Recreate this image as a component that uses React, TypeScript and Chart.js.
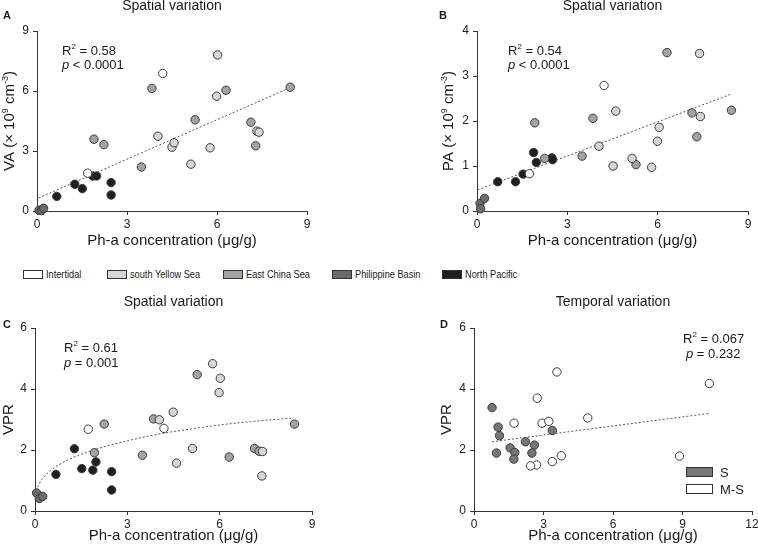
import React, { useEffect, useRef } from 'react';
import { Chart, registerables } from 'chart.js';
Chart.register(...registerables);

const FONT = '"Liberation Sans", Arial, Helvetica, sans-serif';

// ---------------- groups ----------------
const groupNames = ['Intertidal', 'south Yellow Sea', 'East China Sea', 'Philippine Basin', 'North Pacific'];
const groupFill = ['#ffffff', '#d6d6d6', '#a3a3a3', '#6b6b6b', '#1f1f1f'];

// ---------------- Panel A : VA vs Ph-a ----------------
const aIntertidal = [[4.19, 6.88], [1.69, 1.89]];
const aYellowSea = [[6.02, 7.8], [5.99, 5.74], [4.03, 3.74], [4.5, 3.19], [4.57, 3.41], [5.13, 2.34], [5.77, 3.16], [7.33, 3.99], [7.4, 3.94]];
const aEastChina = [[3.83, 6.13], [6.3, 6.04], [8.44, 6.19], [5.27, 4.56], [7.13, 4.44], [7.29, 3.26], [1.9, 3.59], [2.23, 3.32], [3.48, 2.2]];
const aPhilippine = [[0.07, 0.04], [0.15, 0.02], [0.22, 0.14]];
const aNorthPacific = [[0.66, 0.73], [1.26, 1.34], [1.51, 1.12], [1.86, 1.75], [1.99, 1.75], [2.47, 1.42], [2.47, 0.8]];
const aFit = [[0.05, 0.65], [8.47, 6.19]];

// ---------------- Panel B : PA vs Ph-a ----------------
const bIntertidal = [[4.22, 2.79], [1.74, 0.83]];
const bYellowSea = [[7.39, 3.5], [7.42, 2.1], [4.61, 2.22], [6.05, 1.86], [5.99, 1.55], [4.05, 1.44], [4.52, 1.0], [5.15, 1.17], [5.8, 0.97]];
const bEastChina = [[6.31, 3.52], [3.85, 2.06], [1.92, 1.96], [7.14, 2.18], [8.45, 2.24], [7.3, 1.65], [3.49, 1.22], [5.28, 1.03], [2.25, 1.17]];
const bPhilippine = [[0.1, 0.17], [0.25, 0.28], [0.12, 0.05]];
const bNorthPacific = [[0.69, 0.65], [1.28, 0.65], [1.53, 0.82], [1.88, 1.3], [1.97, 1.08], [2.49, 1.18], [2.51, 1.14]];
const bFit = [[0.02, 0.47], [8.45, 2.6]];

// ---------------- Panel C : VPR vs Ph-a (spatial) ----------------
const cIntertidal = [[1.73, 2.68], [4.19, 2.71]];
const cYellowSea = [[5.77, 4.83], [6.02, 4.35], [5.98, 3.88], [4.49, 3.24], [4.04, 2.99], [5.12, 2.05], [4.6, 1.57], [7.39, 1.95], [7.37, 1.15]];
const cEastChina = [[5.27, 4.47], [3.85, 3.02], [2.25, 2.85], [3.49, 1.83], [6.31, 1.77], [7.13, 2.05], [7.28, 1.96], [8.43, 2.85], [1.93, 1.91]];
const cPhilippine = [[0.05, 0.59], [0.14, 0.41], [0.25, 0.48]];
const cNorthPacific = [[0.68, 1.2], [1.28, 2.04], [1.52, 1.39], [1.88, 1.34], [1.98, 1.61], [2.49, 1.29], [2.49, 0.69]];
const cFit = [[0.08, 0.78], [0.2, 1.0], [0.5, 1.32], [1, 1.64], [2, 2.03], [3, 2.3], [4, 2.52], [5, 2.68], [6, 2.82], [7, 2.93], [8.4, 3.05]];

// ---------------- Panel D : VPR vs Ph-a (temporal) ----------------
const dSeasonNames = ['S', 'M-S'];
const dSeasonFill = ['#767676', '#ffffff'];
const dS = [[0.78, 3.39], [1.04, 2.75], [1.1, 2.47], [0.97, 1.9], [1.56, 2.07], [1.76, 1.92], [1.72, 1.7], [2.22, 2.27], [2.61, 2.16], [2.5, 1.9], [3.38, 2.64]];
const dMS = [[3.58, 4.56], [2.73, 3.7], [1.73, 2.88], [2.94, 2.88], [3.23, 2.94], [4.91, 3.05], [10.16, 4.18], [8.87, 1.8], [3.77, 1.81], [3.38, 1.62], [2.7, 1.51], [2.44, 1.48]];
const dFit = [[0.78, 2.27], [10.16, 3.2]];

// ---------------- ticks / labels ----------------
const xTicksSpatial = [0, 3, 6, 9];
const xTicksTemporal = [0, 3, 6, 9, 12];
const vaTicks = [0, 3, 6, 9];
const paTicks = [0, 1, 2, 3, 4];
const vprTicks = [0, 2, 4, 6];

type Seg = { t: string; sup?: boolean; it?: boolean };

const xTitle: Seg[] = [{ t: 'Ph-a concentration (μg/g)' }];
const vaTitle: Seg[] = [{ t: 'VA (× 10' }, { t: '9', sup: true }, { t: ' cm' }, { t: '-3', sup: true }, { t: ')' }];
const paTitle: Seg[] = [{ t: 'PA (× 10' }, { t: '9', sup: true }, { t: ' cm' }, { t: '-3', sup: true }, { t: ')' }];
const vprTitle: Seg[] = [{ t: 'VPR' }];

const statsA: Seg[][] = [[{ t: 'R' }, { t: '2', sup: true }, { t: ' = 0.58' }], [{ t: 'p', it: true }, { t: ' < 0.0001' }]];
const statsB: Seg[][] = [[{ t: 'R' }, { t: '2', sup: true }, { t: ' = 0.54' }], [{ t: 'p', it: true }, { t: ' < 0.0001' }]];
const statsC: Seg[][] = [[{ t: 'R' }, { t: '2', sup: true }, { t: ' = 0.61' }], [{ t: 'p', it: true }, { t: ' = 0.001' }]];
const statsD: Seg[][] = [[{ t: 'R' }, { t: '2', sup: true }, { t: ' = 0.067' }], [{ t: 'p', it: true }, { t: ' = 0.232' }]];

// ---------------- drawing helpers ----------------
function segFont(s: Seg, size: number) {
  return `${s.it ? 'italic ' : ''}${s.sup ? Math.round(size * 0.62) : size}px ${FONT}`;
}
function drawRich(ctx: CanvasRenderingContext2D, segs: Seg[], x: number, y: number, size: number, align: 'left' | 'center') {
  let w = 0;
  for (const s of segs) { ctx.font = segFont(s, size); w += ctx.measureText(s.t).width; }
  let cx = align === 'center' ? x - w / 2 : x;
  ctx.textAlign = 'left';
  ctx.textBaseline = 'alphabetic';
  const base = y + size * 0.36;
  for (const s of segs) {
    ctx.font = segFont(s, size);
    ctx.fillText(s.t, cx, s.sup ? base - size * 0.42 : base);
    cx += ctx.measureText(s.t).width;
  }
}

interface Panel {
  key: string;
  left: number; top: number; width: number; height: number;
  area: { l: number; t: number; r: number; b: number };
  xMax: number; yMax: number; xTicks: number[]; yTicks: number[];
  datasets: any[];
  title: string; titleY: number;
  letter: string; letterX: number; letterY: number;
  yTitle: Seg[]; yTitleX: number;
  xTitleY: number;
  stats: Seg[][]; statsX: number[]; statsY: number[];
  seasonLegend?: boolean;
}

function groupSets(groups: number[][][], fit: number[][], curve: boolean) {
  const sets: any[] = groups.map((pts, i) => ({
    label: groupNames[i],
    data: pts.map(([x, y]) => ({ x, y })),
    backgroundColor: groupFill[i],
    borderColor: '#3a3a3a',
    borderWidth: 1,
    pointRadius: 4.2,
    showLine: false,
    clip: false,
    order: 1,
  }));
  sets.push({
    label: 'fit',
    data: fit.map(([x, y]) => ({ x, y })),
    showLine: true,
    borderColor: '#555',
    borderWidth: 1,
    borderDash: [2, 2],
    pointRadius: 0,
    tension: curve ? 0.4 : 0,
    cubicInterpolationMode: curve ? 'monotone' : 'default',
    fill: false,
    clip: false,
    order: 10,
  });
  return sets;
}

function seasonSets() {
  const sets: any[] = [dS, dMS].map((pts, i) => ({
    label: dSeasonNames[i],
    data: pts.map(([x, y]) => ({ x, y })),
    backgroundColor: dSeasonFill[i],
    borderColor: '#3a3a3a',
    borderWidth: 1,
    pointRadius: 4.2,
    showLine: false,
    clip: false,
    order: 1,
  }));
  sets.push({
    label: 'fit',
    data: dFit.map(([x, y]) => ({ x, y })),
    showLine: true,
    borderColor: '#555',
    borderWidth: 1,
    borderDash: [2, 2],
    pointRadius: 0,
    fill: false,
    clip: false,
    order: 10,
  });
  return sets;
}

const panels: Panel[] = [
  {
    key: 'A', left: 0, top: 0, width: 379, height: 258,
    area: { l: 37, t: 31, r: 307, b: 211 },
    xMax: 9, yMax: 9, xTicks: xTicksSpatial, yTicks: vaTicks,
    datasets: groupSets([aIntertidal, aYellowSea, aEastChina, aPhilippine, aNorthPacific], aFit, false),
    title: 'Spatial variation', titleY: 6,
    letter: 'A', letterX: 3, letterY: 16,
    yTitle: vaTitle, yTitleX: 9, xTitleY: 240,
    stats: statsA, statsX: [62, 62], statsY: [50, 64],
  },
  {
    key: 'B', left: 379, top: 0, width: 379, height: 258,
    area: { l: 477, t: 31, r: 748, b: 211 },
    xMax: 9, yMax: 4, xTicks: xTicksSpatial, yTicks: paTicks,
    datasets: groupSets([bIntertidal, bYellowSea, bEastChina, bPhilippine, bNorthPacific], bFit, false),
    title: 'Spatial variation', titleY: 6,
    letter: 'B', letterX: 439, letterY: 16,
    yTitle: paTitle, yTitleX: 448, xTitleY: 240,
    stats: statsB, statsX: [508, 508], statsY: [50, 64],
  },
  {
    key: 'C', left: 0, top: 285, width: 379, height: 266,
    area: { l: 35, t: 328, r: 312, b: 511 },
    xMax: 9, yMax: 6, xTicks: xTicksSpatial, yTicks: vprTicks,
    datasets: groupSets([cIntertidal, cYellowSea, cEastChina, cPhilippine, cNorthPacific], cFit, true),
    title: 'Spatial variation', titleY: 302,
    letter: 'C', letterX: 3, letterY: 325,
    yTitle: vprTitle, yTitleX: 8, xTitleY: 535,
    stats: statsC, statsX: [64, 64], statsY: [347, 362],
  },
  {
    key: 'D', left: 379, top: 285, width: 379, height: 266,
    area: { l: 474, t: 328, r: 752, b: 511 },
    xMax: 12, yMax: 6, xTicks: xTicksTemporal, yTicks: vprTicks,
    datasets: seasonSets(),
    title: 'Temporal variation', titleY: 302,
    letter: 'D', letterX: 440, letterY: 325,
    yTitle: vprTitle, yTitleX: 446, xTitleY: 535,
    stats: statsD, statsX: [683, 686], statsY: [338, 353],
    seasonLegend: true,
  },
];

const YW = 30;
const XH = 20;

function textPlugin(p: Panel) {
  return {
    id: 'panelText' + p.key,
    afterDraw(chart: any) {
      const ctx: CanvasRenderingContext2D = chart.ctx;
      const a = chart.chartArea;
      const ox = p.left, oy = p.top;
      const cx = (a.left + a.right) / 2;
      ctx.save();
      ctx.fillStyle = '#1a1a1a';
      ctx.font = `14px ${FONT}`;
      ctx.textAlign = 'center';
      ctx.textBaseline = 'middle';
      ctx.fillText(p.title, cx, p.titleY - oy);
      ctx.font = `bold 11px ${FONT}`;
      ctx.textAlign = 'left';
      ctx.fillText(p.letter, p.letterX - ox, p.letterY - oy);
      drawRich(ctx, xTitle, cx, p.xTitleY - oy, 15, 'center');
      p.stats.forEach((segs, i) => drawRich(ctx, segs, p.statsX[i] - ox, p.statsY[i] - oy, 13, 'left'));
      if (p.seasonLegend) {
        const rows = [467, 484];
        rows.forEach((ry, i) => {
          ctx.fillStyle = dSeasonFill[i];
          ctx.fillRect(686 - ox + 0.5, ry - oy + 0.5, 26, 9);
          ctx.strokeStyle = '#333';
          ctx.lineWidth = 1;
          ctx.strokeRect(686 - ox + 0.5, ry - oy + 0.5, 26, 9);
          ctx.fillStyle = '#1a1a1a';
          drawRich(ctx, [{ t: dSeasonNames[i] }], 720 - ox, ry + 5 - oy, 13, 'left');
        });
      }
      ctx.translate(p.yTitleX - ox, (a.top + a.bottom) / 2);
      ctx.rotate(-Math.PI / 2);
      ctx.fillStyle = '#1a1a1a';
      drawRich(ctx, p.yTitle, 0, 0, 15, 'center');
      ctx.restore();
    },
  };
}

function PanelChart({ p }: { p: Panel }) {
  const ref = useRef<HTMLCanvasElement>(null);
  useEffect(() => {
    const canvas = ref.current!;
    const padLeft = p.area.l - p.left - YW;
    const padTop = p.area.t - p.top;
    const padRight = p.left + p.width - p.area.r;
    const padBottom = p.height - XH - (p.area.b - p.top);
    const axisCommon = {
      type: 'linear' as const,
      grid: { display: true, drawOnChartArea: false, drawTicks: true, tickLength: 4, color: '#333', lineWidth: 1 },
      border: { display: true, color: '#333', width: 1 },
    };
    const chart = new Chart(canvas, {
      type: 'scatter',
      data: { datasets: p.datasets },
      options: {
        responsive: false,
        animation: false,
        events: [],
        layout: { autoPadding: false, padding: { left: padLeft, top: padTop, right: padRight, bottom: padBottom } },
        plugins: { legend: { display: false }, tooltip: { enabled: false }, title: { display: false } },
        scales: {
          x: {
            ...axisCommon,
            min: 0, max: p.xMax,
            afterBuildTicks: (s: any) => { s.ticks = p.xTicks.map((v) => ({ value: v })); },
            afterFit: (s: any) => { s.height = XH; s.paddingLeft = 0; s.paddingRight = 0; s.paddingTop = 0; s.paddingBottom = 0; },
            ticks: { font: { family: FONT, size: 12 }, color: '#222', padding: 2, maxRotation: 0, autoSkip: false },
          },
          y: {
            ...axisCommon,
            min: 0, max: p.yMax,
            afterBuildTicks: (s: any) => { s.ticks = p.yTicks.map((v) => ({ value: v })); },
            afterFit: (s: any) => { s.width = YW; s.paddingLeft = 0; s.paddingRight = 0; s.paddingTop = 0; s.paddingBottom = 0; },
            ticks: { font: { family: FONT, size: 12 }, color: '#222', padding: 4, autoSkip: false },
          },
        },
      } as any,
      plugins: [textPlugin(p)],
    });
    return () => chart.destroy();
  }, []);
  return (
    <canvas
      ref={ref}
      width={p.width}
      height={p.height}
      style={{ position: 'absolute', left: p.left, top: p.top, width: p.width, height: p.height }}
    />
  );
}

const legendBoxX = [23, 107, 223, 332, 442];

export default function App() {
  return (
    <div style={{ position: 'absolute', left: 0, top: 0, width: 758, height: 551, overflow: 'hidden', background: '#fff' }}>
      {panels.map((p) => <PanelChart key={p.key} p={p} />)}
      {groupNames.map((name, i) => (
        <div key={name} style={{ position: 'absolute', left: legendBoxX[i], top: 266, height: 16, display: 'flex', alignItems: 'center' }}>
          <div style={{ width: 18, height: 7, border: '1px solid #333', background: groupFill[i] }} />
          <span style={{ marginLeft: 3, fontFamily: FONT, fontSize: 11.5, color: '#1a1a1a', display: 'inline-block', transform: 'scaleX(0.8)', transformOrigin: 'left center', whiteSpace: 'nowrap' }}>{name}</span>
        </div>
      ))}
    </div>
  );
}
